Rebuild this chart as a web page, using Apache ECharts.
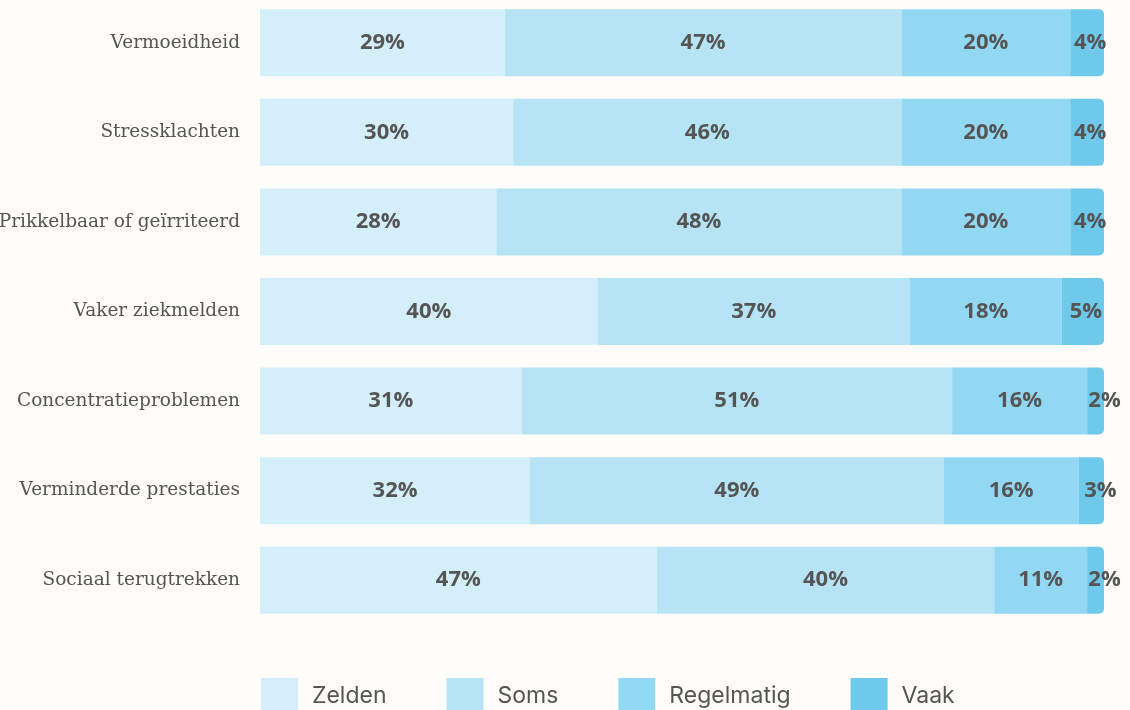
<!DOCTYPE html>
<html><head><meta charset="utf-8">
<script src="https://cdn.jsdelivr.net/npm/echarts@6/dist/echarts.min.js"></script>
<style>html,body{margin:0;padding:0;background:#fefdf9;overflow:hidden;}#c{width:1130px;height:712px;position:relative;top:-2px;}</style>
</head><body><div id="c"></div>
<script>
const categories = ['Vermoeidheid','Stressklachten','Prikkelbaar of geïrriteerd','Vaker ziekmelden','Concentratieproblemen','Verminderde prestaties','Sociaal terugtrekken'];
const seriesNames = ['Zelden','Soms','Regelmatig','Vaak'];
const zelden = [29,30,28,40,31,32,47];
const soms = [47,46,48,37,51,49,40];
const regelmatig = [20,20,20,18,16,16,11];
const vaak = [4,4,4,5,2,3,2];
const colors = ['#d5effa','#b6e4f5','#93d8f2','#6ec9eb'];

const values = [zelden, soms, regelmatig, vaak];
const chart = echarts.init(document.getElementById('c'), null, {renderer:'canvas'});
const series = values.map((arr, i) => ({
  name: seriesNames[i],
  type: 'bar',
  stack: 'total',
  barWidth: 67,
  data: arr.map(v => i === 3 ? {value: v, label: {offset: [v <= 3 ? 9 : 3, 0]}} : v),
  itemStyle: {color: colors[i], borderRadius: i === 3 ? [0,5,5,0] : 0},
  label: {
    show: true,
    position: 'inside',
    formatter: '{c}%',
    color: '#555555',
    fontFamily: 'Open Sans',
    fontWeight: 'bold',
    fontSize: 22
  },
  emphasis: {disabled: true}
}));

chart.setOption({
  backgroundColor: '#fefdf9',
  animation: false,
  grid: {left: 260, right: 26, top: 0, bottom: 85, containLabel: false, outerBoundsMode: 'none'},
  xAxis: {type: 'value', min: 0, max: 100, show: false},
  yAxis: {
    type: 'category', data: categories, inverse: true,
    axisLine: {show: false}, axisTick: {show: false}, splitLine: {show: false},
    axisLabel: {color: '#555555', fontFamily: 'DejaVu Serif', fontSize: 18.5, margin: 20}
  },
  legend: {
    left: 261, top: 680, padding: 0, itemWidth: 37, itemHeight: 37, itemGap: 60,
    icon: 'rect',
    textStyle: {color: '#555555', fontFamily: 'Inter', fontSize: 23, padding: [0,0,0,9]},
    data: seriesNames
  },
  series: series
});
</script></body></html>
